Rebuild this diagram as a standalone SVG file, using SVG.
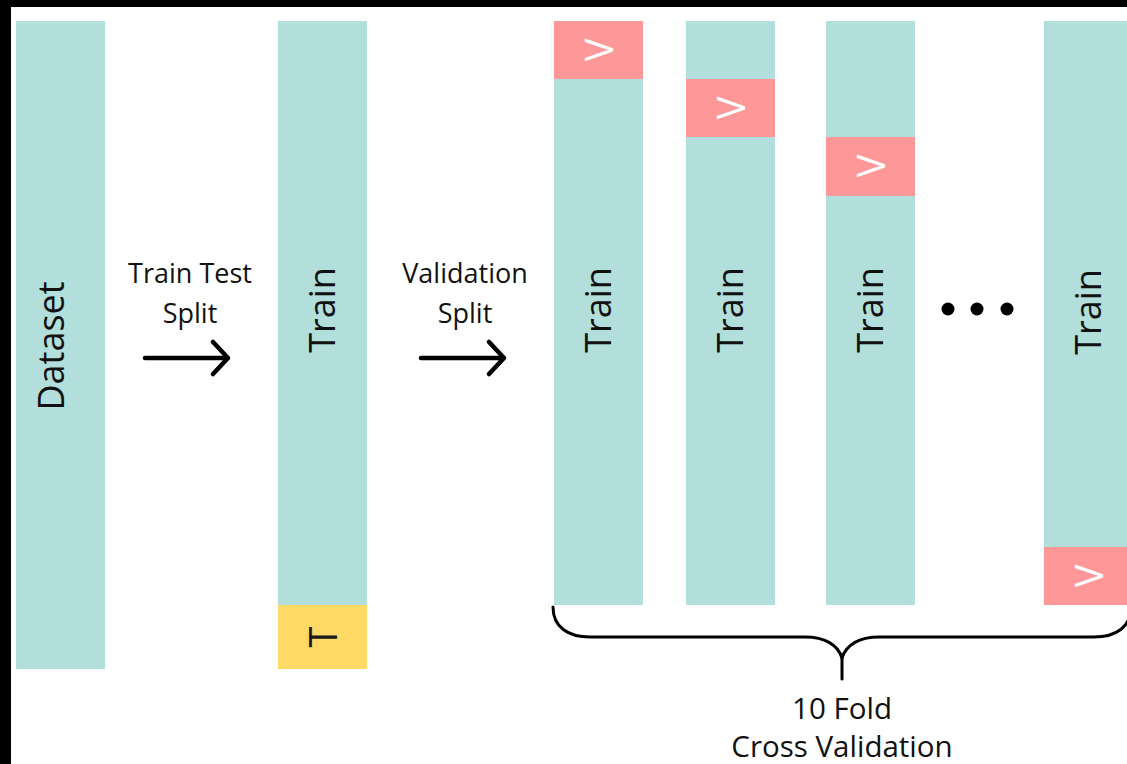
<svg xmlns="http://www.w3.org/2000/svg" width="1127" height="764" viewBox="0 0 1127 764">
  <style>
    .bar { fill: #b2dfdb; }
    .val { fill: #fe9797; }
    .test { fill: #ffd966; }
    .lbl { font-family: "Open Sans", "Liberation Sans", sans-serif; font-size: 36px; fill: #111; text-anchor: middle; }
    .vlbl { font-family: "Open Sans", "Liberation Sans", sans-serif; font-size: 38px; fill: #ffffff; text-anchor: middle; }
    .tlbl { font-family: "Open Sans", "Liberation Sans", sans-serif; font-size: 38px; fill: #1a1a1a; text-anchor: middle; }
    .cap { font-family: "Open Sans", "Liberation Sans", sans-serif; font-size: 27px; fill: #111; text-anchor: middle; }
    .cap2 { font-family: "Open Sans", "Liberation Sans", sans-serif; font-size: 29.5px; fill: #111; text-anchor: middle; }
    .line { fill: none; stroke: #000; stroke-width: 4.5; stroke-linecap: round; stroke-linejoin: round; }
    .brace { fill: none; stroke: #000; stroke-width: 3; stroke-linecap: round; }
  </style>

  <!-- frame -->
  <rect x="0" y="0" width="1127" height="764" fill="#ffffff"/>
  <rect x="0" y="0" width="1127" height="7" fill="#000"/>
  <rect x="0" y="0" width="11" height="764" fill="#000"/>

  <!-- full dataset -->
  <g id="dataset">
    <rect class="bar" x="16" y="21" width="89" height="648"/>
    <text class="lbl" transform="translate(64,346) rotate(-90)">Dataset</text>
  </g>

  <!-- train / test split -->
  <g id="train-test">
    <rect class="bar" x="278" y="21" width="89" height="584"/>
    <rect class="test" x="278" y="605" width="89" height="64"/>
    <text class="lbl" transform="translate(335,310) rotate(-90)">Train</text>
    <text class="tlbl" transform="translate(337,637) rotate(-90)">T</text>
  </g>

  <!-- step captions -->
  <g id="label-train-test">
    <text class="cap" x="190" y="283">Train Test</text>
    <text class="cap" x="190" y="323">Split</text>
  </g>
  <g id="label-validation">
    <text class="cap" x="465" y="283">Validation</text>
    <text class="cap" x="465" y="323">Split</text>
  </g>

  <!-- folds -->
  <g id="fold-1">
    <rect class="bar" x="554" y="21" width="89" height="584"/>
    <rect class="val" x="554" y="21" width="89" height="58"/>
    <text class="lbl" transform="translate(611,310) rotate(-90)">Train</text>
    <text class="vlbl" transform="translate(613,50) rotate(-90)">V</text>
  </g>
  <g id="fold-2">
    <rect class="bar" x="686" y="21" width="89" height="584"/>
    <rect class="val" x="686" y="79" width="89" height="58"/>
    <text class="lbl" transform="translate(743,310) rotate(-90)">Train</text>
    <text class="vlbl" transform="translate(745,108) rotate(-90)">V</text>
  </g>
  <g id="fold-3">
    <rect class="bar" x="826" y="21" width="89" height="584"/>
    <rect class="val" x="826" y="137" width="89" height="59"/>
    <text class="lbl" transform="translate(883,310) rotate(-90)">Train</text>
    <text class="vlbl" transform="translate(885,166) rotate(-90)">V</text>
  </g>
  <g id="ellipsis">
    <circle cx="948" cy="309" r="6.5" fill="#000"/>
    <circle cx="977" cy="309" r="6.5" fill="#000"/>
    <circle cx="1007" cy="309" r="6.5" fill="#000"/>
  </g>
  <g id="fold-10">
    <rect class="bar" x="1044" y="21" width="89" height="584"/>
    <rect class="val" x="1044" y="547" width="89" height="58"/>
    <text class="lbl" transform="translate(1101,312) rotate(-90)">Train</text>
    <text class="vlbl" transform="translate(1103,576) rotate(-90)">V</text>
  </g>

  <!-- brace and caption -->
  <g id="cross-validation">
    <path class="brace" d="M553,607 C553,627 568,637 590,637 L805,637 C825,637 838,645 842,658 C846,645 859,637 879,637 L1094,637 C1116,637 1131,627 1131,607"/>
    <path class="brace" d="M842,656 L842,679"/>
    <text class="cap2" x="842" y="719">10 Fold</text>
    <text class="cap2" x="842" y="757">Cross Validation</text>
  </g>

  <!-- connectors -->
  <g id="connectors">
    <path class="line" d="M145,358 L228,358 M213,342 L228,358 L213,374"/>
    <path class="line" d="M421,358 L504,358 M489,342 L504,358 L489,374"/>
  </g>
</svg>
